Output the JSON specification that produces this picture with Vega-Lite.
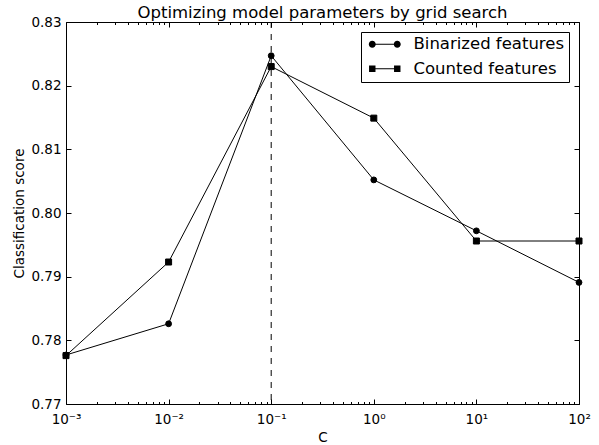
{
  "$schema": "https://vega.github.io/schema/vega-lite/v6.json",
  "width": 513,
  "height": 382,
  "autosize": "none",
  "padding": {"left": 66, "top": 22, "right": 20, "bottom": 41},
  "title": {"text": "Optimizing model parameters by grid search", "fontSize": 16.5, "font": "DejaVu Sans", "fontWeight": "normal", "color": "#000", "offset": -6.5, "anchor": "middle"},
  "config": {
    "view": {"stroke": null},
    "font": "DejaVu Sans",
    "axis": {"domainColor": "#000", "tickColor": "#000", "labelColor": "#000", "titleColor": "#000", "labelFont": "DejaVu Sans", "titleFont": "DejaVu Sans", "labelFontSize": 13.5, "titleFontSize": 13.5, "titleFontWeight": "normal", "grid": false, "domainWidth": 1, "tickWidth": 1}
  },
  "data": {"values": [
    {"C": 0.001, "score": 0.7777, "series": "Binarized features"},
    {"C": 0.01, "score": 0.7826, "series": "Binarized features"},
    {"C": 0.1, "score": 0.8247, "series": "Binarized features"},
    {"C": 1, "score": 0.8052, "series": "Binarized features"},
    {"C": 10, "score": 0.7972, "series": "Binarized features"},
    {"C": 100, "score": 0.7891, "series": "Binarized features"},
    {"C": 0.001, "score": 0.7776, "series": "Counted features"},
    {"C": 0.01, "score": 0.7923, "series": "Counted features"},
    {"C": 0.1, "score": 0.8230, "series": "Counted features"},
    {"C": 1, "score": 0.8149, "series": "Counted features"},
    {"C": 10, "score": 0.7956, "series": "Counted features"},
    {"C": 100, "score": 0.7956, "series": "Counted features"}
  ]},
  "layer": [
    {
      "mark": {"type": "line", "color": "#000", "strokeWidth": 1},
      "encoding": {
        "x": {"field": "C", "type": "quantitative", "scale": {"type": "log", "domain": [0.001, 100], "nice": false},
          "axis": {"orient": "bottom", "title": "C", "titlePadding": 2,
            "values": [0.001,0.002,0.003,0.004,0.005,0.006,0.007,0.008,0.009,0.01,0.02,0.03,0.04,0.05,0.06,0.07,0.08,0.09,0.1,0.2,0.3,0.4,0.5,0.6,0.7,0.8,0.9,1,2,3,4,5,6,7,8,9,10,20,30,40,50,60,70,80,90,100],
            "labelExpr": "datum.value == 0.001 ? '10⁻³' : datum.value == 0.01 ? '10⁻²' : datum.value == 0.1 ? '10⁻¹' : datum.value == 1 ? '10⁰' : datum.value == 10 ? '10¹' : datum.value == 100 ? '10²' : ''",
            "labelOverlap": false, "labelFlush": false, "labelPadding": 13,
            "tickSize": {"condition": {"test": "abs(log(datum.value)/LN10 - round(log(datum.value)/LN10)) < 0.001", "value": -5}, "value": -2.5}}},
        "y": {"field": "score", "type": "quantitative", "scale": {"domain": [0.77, 0.83], "nice": false, "zero": false},
          "axis": {"orient": "left", "title": "Classification score", "titlePadding": 4, "values": [0.77,0.78,0.79,0.80,0.81,0.82,0.83], "format": ".2f", "tickSize": -5, "labelPadding": 10}},
        "detail": {"field": "series", "type": "nominal"}
      }
    },
    {
      "transform": [{"filter": "datum.series === 'Binarized features'"}],
      "mark": {"type": "point", "shape": "circle", "filled": true, "color": "#000", "stroke": "#000", "strokeWidth": 1, "size": 34, "opacity": 1},
      "encoding": {
        "x": {"field": "C", "type": "quantitative", "axis": null},
        "y": {"field": "score", "type": "quantitative",
          "axis": {"orient": "right", "title": null, "labels": false, "values": [0.77,0.78,0.79,0.80,0.81,0.82,0.83], "tickSize": -5}}
      }
    },
    {
      "transform": [{"filter": "datum.series === 'Counted features'"}],
      "mark": {"type": "point", "shape": "square", "filled": true, "color": "#000", "stroke": "#000", "strokeWidth": 1, "size": 36, "opacity": 1},
      "encoding": {
        "x": {"field": "C", "type": "quantitative", "axis": null},
        "y": {"field": "score", "type": "quantitative", "axis": null}
      }
    },
    {
      "transform": [{"filter": "datum.C < 0"}],
      "mark": {"type": "point", "filled": true, "color": "#000", "stroke": "#000", "strokeWidth": 1, "opacity": 1},
      "encoding": {
        "x": {"field": "C", "type": "quantitative", "axis": null},
        "y": {"field": "score", "type": "quantitative", "axis": null},
        "shape": {"field": "series", "type": "nominal",
          "scale": {"domain": ["Binarized features", "Counted features"],
            "range": ["M-0.14,-0.07H3.43V0.07H-0.14ZM-0.64,0A0.5,0.5,0,1,1,0.36,0A0.5,0.5,0,1,1,-0.64,0ZM2.93,0A0.5,0.5,0,1,1,3.93,0A0.5,0.5,0,1,1,2.93,0Z", "M-0.14,-0.07H3.43V0.07H-0.14ZM-0.6,-0.46H0.32V0.46H-0.6ZM2.97,-0.46H3.89V0.46H2.97Z"]},
          "legend": {"title": null, "orient": "none", "legendX": 295, "legendY": 10, "padding": 4, "strokeColor": "#000", "fillColor": "#fff", "cornerRadius": 0,
            "labelFont": "DejaVu Sans", "labelFontSize": 16.5, "labelColor": "#000", "labelOffset": 32, "rowPadding": 7.5, "symbolSize": 196,
            "symbolFillColor": "#000", "symbolStrokeColor": "#000", "symbolStrokeWidth": 1, "symbolOpacity": 1}}
      }
    },
    {
      "data": {"values": [{"C": 0.1}]},
      "mark": {"type": "rule", "color": "#000", "strokeWidth": 1, "strokeDash": [6, 6]},
      "encoding": {
        "x": {"field": "C", "type": "quantitative",
          "axis": {"orient": "top", "title": null, "labels": false,
            "values": [0.001,0.002,0.003,0.004,0.005,0.006,0.007,0.008,0.009,0.01,0.02,0.03,0.04,0.05,0.06,0.07,0.08,0.09,0.1,0.2,0.3,0.4,0.5,0.6,0.7,0.8,0.9,1,2,3,4,5,6,7,8,9,10,20,30,40,50,60,70,80,90,100],
            "tickSize": {"condition": {"test": "abs(log(datum.value)/LN10 - round(log(datum.value)/LN10)) < 0.001", "value": -5}, "value": -2.5}}}
      }
    }
  ],
  "resolve": {"axis": {"x": "independent", "y": "independent"}}
}
